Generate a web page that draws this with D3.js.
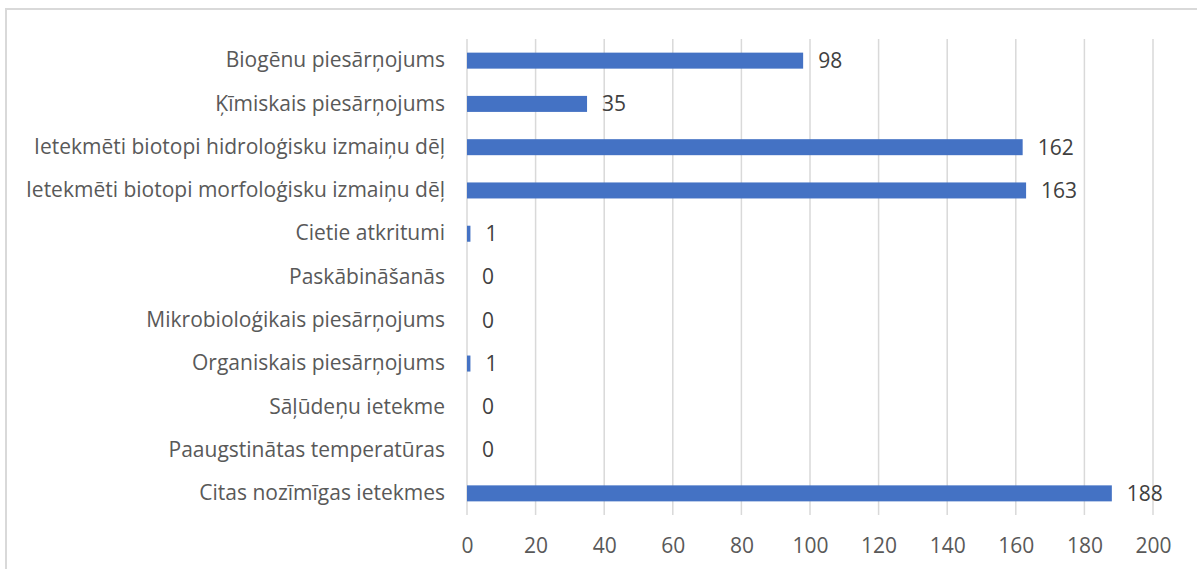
<!DOCTYPE html>
<html>
<head>
<meta charset="utf-8">
<script src="https://cdn.jsdelivr.net/npm/d3@7"></script>
<style>
  body { margin: 0; background: #fff; }
  text { font-family: "Open Sans", "Liberation Sans", sans-serif; }
</style>
</head>
<body>
<div id="chart"></div>
<script>
let categories = [
    "Biogēnu piesārņojums",
    "Ķīmiskais piesārņojums",
    "Ietekmēti biotopi hidroloģisku izmaiņu dēļ",
    "Ietekmēti biotopi morfoloģisku izmaiņu dēļ",
    "Cietie atkritumi",
    "Paskābināšanās",
    "Mikrobioloģikais piesārņojums",
    "Organiskais piesārņojums",
    "Sāļūdeņu ietekme",
    "Paaugstinātas temperatūras",
    "Citas nozīmīgas ietekmes"
]
let values = [98, 35, 162, 163, 1, 0, 0, 1, 0, 0, 188]
let ticks = [0, 20, 40, 60, 80, 100, 120, 140, 160, 180, 200]

let width = 1197
let height = 569
let margin = { top: 39, right: 44, bottom: 54, left: 467 }
let fontSize = "21px"

let svg = d3.select("#chart")
            .append("svg")
            .attr("width", width)
            .attr("height", height)

// chart border (runs off the right and bottom edge)
svg.append("rect")
    .attr("x", 6)
    .attr("y", 9)
    .attr("width", width + 10)
    .attr("height", height + 10)
    .attr("fill", "none")
    .attr("stroke", "#d9d9d9")
    .attr("stroke-width", 2)

let xScale = d3.scaleLinear()
                .domain([0, 200])
                .range([margin.left, width - margin.right])

let yScale = d3.scaleBand()
                .domain(categories)
                .range([margin.top, height - margin.bottom])
                .paddingInner(0.63)
                .paddingOuter(0.315)

// vertical gridlines
svg.selectAll(".grid")
    .data(ticks)
    .enter()
    .append("line")
    .attr("x1", d => xScale(d))
    .attr("x2", d => xScale(d))
    .attr("y1", margin.top)
    .attr("y2", height - margin.bottom)
    .attr("stroke", "#d9d9d9")
    .attr("stroke-width", 1.5)

// x axis labels
let xAxis = d3.axisBottom(xScale)
                .tickValues(ticks)
                .tickSize(0)
                .tickPadding(23)

svg.append("g")
    .attr("transform", `translate(0,${height - margin.bottom})`)
    .call(xAxis)
    .call(g => g.select(".domain").remove())
    .call(g => g.selectAll("text")
        .attr("fill", "#595959")
        .style("font-size", fontSize))

// category labels
let yAxis = d3.axisLeft(yScale)
                .tickSize(0)
                .tickPadding(22)

svg.append("g")
    .attr("transform", `translate(${margin.left},0)`)
    .call(yAxis)
    .call(g => g.select(".domain").remove())
    .call(g => g.selectAll("text")
        .attr("fill", "#595959")
        .style("font-size", fontSize))

let bars = svg.selectAll(".bar")
            .data(values)

bars.enter()
    .append("rect")
    .attr("x", xScale(0))
    .attr("y", (d, i) => yScale(categories[i]))
    .attr("width", d => xScale(d) - xScale(0))
    .attr("height", yScale.bandwidth())
    .attr("fill", "#4472c4")

// value labels
svg.selectAll(".val")
    .data(values)
    .enter()
    .append("text")
    .attr("x", d => xScale(d) + 15)
    .attr("y", (d, i) => yScale(categories[i]) + yScale.bandwidth() / 2)
    .attr("dy", "0.35em")
    .attr("fill", "#404040")
    .style("font-size", fontSize)
    .text(d => d)
</script>
</body>
</html>
